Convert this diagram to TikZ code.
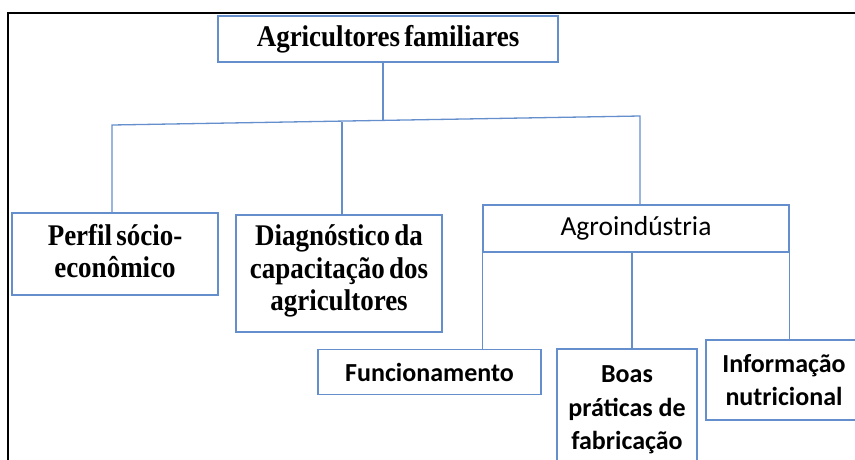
\documentclass[tikz,border=0pt]{standalone}
\usepackage{fontspec}
\setmainfont{Liberation Serif}
\newfontfamily\serifb[FakeStretch=0.9,WordSpace=0.6]{Liberation Serif}
\newfontfamily\calib{Carlito}
\definecolor{boxblue}{RGB}{100,142,204}
\tikzset{
  box/.style={draw=boxblue, line width=1.3pt, fill=white, inner sep=0pt, align=center, anchor=center},
  serbox/.style={box, font=\serifb\bfseries\fontsize{30}{32.5}\selectfont},
  calbox/.style={box, font=\calib\bfseries\fontsize{26}{33.5}\selectfont},
  calreg/.style={box, font=\calib\fontsize{27.5}{30}\selectfont},
  conn/.style={draw=boxblue, line width=1.3pt},
  frame/.style={draw=black, line width=2.6pt, line join=miter}
}
\begin{document}
\begin{tikzpicture}[x=1pt, y=-1pt]
\useasboundingbox (0,0) rectangle (855,459);
% frame
\draw[frame] (8,470) -- (8,13) -- (870,13);
% nodes
\node[serbox, minimum width=340pt, minimum height=46pt] (top) at (388,39) {Agricultores familiares};
\node[serbox, minimum width=206pt, minimum height=82pt] (perfil) at (115,254) {Perfil sócio-\\econômico\vspace{6pt}};
\node[serbox, minimum width=206pt, minimum height=117pt] (diag) at (339,273.5) {Diagnóstico da\\capacitação dos\\agricultores\vspace{5pt}};
\node[calreg, minimum width=306pt, minimum height=47pt] (agro) at (636,228.5) {Agroindústria};
\node[calbox, minimum width=223pt, minimum height=45pt] (func) at (429.5,372) {Funcionamento};
\node[calbox, minimum width=140pt, minimum height=122pt] (boas) at (627,410) {Boas\\práticas de\\fabricação};
\node[calbox, minimum width=156pt, minimum height=80pt] (info) at (784,380) {Informação\\nutricional};
% junction coordinates
\coordinate (jl) at (112,125);
\coordinate (jr) at (640,116);
\coordinate (jt) at (383,120.4);
\coordinate (jd) at (342,122.2);
\coordinate (jb) at (632,252);
% connectors
\draw[conn] (jt |- top.south) -- (jt);
\draw[conn] (jl |- perfil.north) -- (jl) -- (jr) -- (jr |- agro.north);
\draw[conn] (jd) -- (jd |- diag.north);
\draw[conn] (agro.south west) -- (agro.south west |- func.north);
\draw[conn] (jb) -- (jb |- boas.north);
\draw[conn] (agro.south east) -- (agro.south east |- info.north);
\end{tikzpicture}
\end{document}
